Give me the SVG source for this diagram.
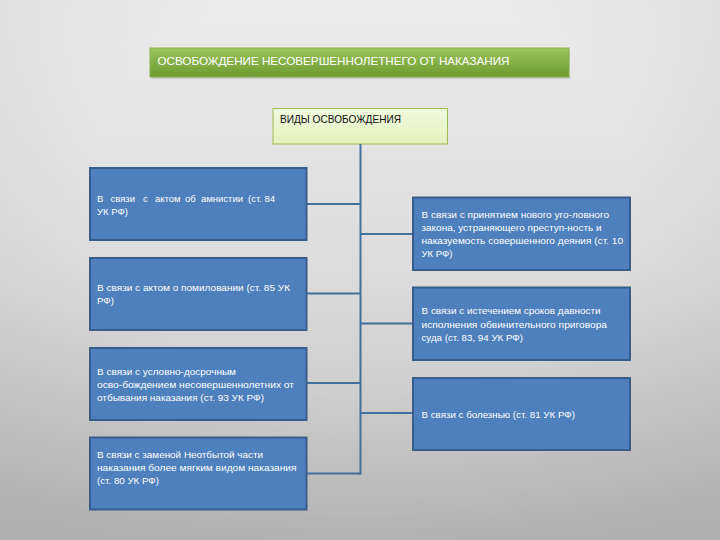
<svg xmlns="http://www.w3.org/2000/svg" width="720" height="540" viewBox="0 0 720 540">
<defs>
<linearGradient id="bg" x1="0" y1="0" x2="0" y2="1">
<stop offset="0" stop-color="#ececec"/>
<stop offset="0.5" stop-color="#dcdcdc"/>
<stop offset="1" stop-color="#bdbdbd"/>
</linearGradient>
<radialGradient id="vig" cx="0.5" cy="0.35" r="0.75">
<stop offset="0.5" stop-color="#000" stop-opacity="0"/>
<stop offset="1" stop-color="#000" stop-opacity="0.08"/>
</radialGradient>
<linearGradient id="green" x1="0" y1="0" x2="0" y2="1">
<stop offset="0" stop-color="#9cc55a"/>
<stop offset="1" stop-color="#6d9a32"/>
</linearGradient>
<linearGradient id="lightgreen" x1="0" y1="0" x2="0" y2="1">
<stop offset="0" stop-color="#f1f9de"/>
<stop offset="1" stop-color="#e2f2bc"/>
</linearGradient>
</defs>
<style>
.box{fill:#4d80bc;stroke:#385d8a;stroke-width:2}
.shadow{fill:#000;opacity:0.12}
.t{font-family:"Liberation Sans","Open Sans",sans-serif;font-size:9.5px;fill:#ffffff}
.tk{font-family:"Liberation Sans","Open Sans",sans-serif;font-size:11px;fill:#111111}
.tw{font-family:"Liberation Sans","Open Sans",sans-serif;font-size:11.5px;fill:#ffffff}
.c{stroke:#41719c;stroke-width:2;fill:none}
</style>
<rect width="720" height="540" fill="url(#bg)"/>
<rect width="720" height="540" fill="url(#vig)"/>

<g id="title">
<rect x="151" y="50" width="419" height="29" class="shadow"/>
<rect x="150" y="48" width="419" height="29" fill="url(#green)" stroke="#8ab04c" stroke-width="1"/>
<text x="157.5" y="65" class="tw" textLength="352" lengthAdjust="spacingAndGlyphs">ОСВОБОЖДЕНИЕ НЕСОВЕРШЕННОЛЕТНЕГО ОТ НАКАЗАНИЯ</text>
</g>

<g id="types">
<rect x="273" y="108.5" width="174.5" height="35.5" fill="url(#lightgreen)" stroke="#9bbb59" stroke-width="1"/>
<text x="280" y="123" class="tk" textLength="121" lengthAdjust="spacingAndGlyphs">ВИДЫ ОСВОБОЖДЕНИЯ</text>
</g>

<g id="connectors">
<line x1="360.5" y1="144" x2="360.5" y2="474.5" class="c"/>
<line x1="307" y1="204" x2="360.5" y2="204" class="c"/>
<line x1="307" y1="293.5" x2="360.5" y2="293.5" class="c"/>
<line x1="307" y1="383" x2="360.5" y2="383" class="c"/>
<line x1="307" y1="473.5" x2="360.5" y2="473.5" class="c"/>
<line x1="360.5" y1="234" x2="413" y2="234" class="c"/>
<line x1="360.5" y1="323.5" x2="413" y2="323.5" class="c"/>
<line x1="360.5" y1="413" x2="413" y2="413" class="c"/>
</g>

<g id="left1">
<rect x="90" y="168" width="216.5" height="72" class="box"/>
<text y="201.5" class="t"><tspan x="97">В</tspan> <tspan x="110.5">связи</tspan> <tspan x="143">с</tspan> <tspan x="155">актом</tspan> <tspan x="185">об</tspan> <tspan x="201">амнистии</tspan> <tspan x="248">(ст. 84</tspan></text>
<text x="97" y="214.5" class="t" textLength="31" lengthAdjust="spacingAndGlyphs">УК РФ)</text>
</g>

<g id="left2">
<rect x="90" y="258" width="216.5" height="72" class="box"/>
<text x="97" y="291" class="t" textLength="193" lengthAdjust="spacingAndGlyphs">В связи с актом о помиловании (ст. 85 УК</text>
<text x="97" y="304" class="t" textLength="17" lengthAdjust="spacingAndGlyphs">РФ)</text>
</g>

<g id="left3">
<rect x="90" y="348" width="216.5" height="72" class="box"/>
<text x="97" y="374.5" class="t" textLength="139" lengthAdjust="spacingAndGlyphs">В связи с условно-досрочным</text>
<text x="97" y="388" class="t" textLength="197" lengthAdjust="spacingAndGlyphs">осво-бождением несовершеннолетних от</text>
<text x="97" y="401" class="t" textLength="167" lengthAdjust="spacingAndGlyphs">отбывания наказания (ст. 93 УК РФ)</text>
</g>

<g id="left4">
<rect x="90" y="437.5" width="216.5" height="72" class="box"/>
<text x="97" y="458" class="t" textLength="166" lengthAdjust="spacingAndGlyphs">В связи с заменой Неотбытой части</text>
<text x="97" y="471" class="t" textLength="199.5" lengthAdjust="spacingAndGlyphs">наказания более мягким видом наказания</text>
<text x="97" y="484" class="t" textLength="62" lengthAdjust="spacingAndGlyphs">(ст. 80 УК РФ)</text>
</g>

<g id="right1">
<rect x="413" y="197.5" width="217" height="72.5" class="box"/>
<text x="421.5" y="218" class="t" textLength="187.5" lengthAdjust="spacingAndGlyphs">В связи с принятием нового уго-ловного</text>
<text x="421.5" y="231" class="t" textLength="180" lengthAdjust="spacingAndGlyphs">закона, устраняющего преступ-ность и</text>
<text x="421.5" y="244" class="t" textLength="201.5" lengthAdjust="spacingAndGlyphs">наказуемость совершенного деяния (ст. 10</text>
<text x="421.5" y="256.5" class="t" textLength="31" lengthAdjust="spacingAndGlyphs">УК РФ)</text>
</g>

<g id="right2">
<rect x="413" y="287.5" width="217" height="72.5" class="box"/>
<text x="421.5" y="314" class="t" textLength="179" lengthAdjust="spacingAndGlyphs">В связи с истечением сроков давности</text>
<text x="421.5" y="328" class="t" textLength="185.5" lengthAdjust="spacingAndGlyphs">исполнения обвинительного приговора</text>
<text x="421.5" y="341" class="t" textLength="101.5" lengthAdjust="spacingAndGlyphs">суда (ст. 83, 94 УК РФ)</text>
</g>

<g id="right3">
<rect x="413" y="378" width="217" height="72" class="box"/>
<text x="421.5" y="417.5" class="t" textLength="153.5" lengthAdjust="spacingAndGlyphs">В связи с болезнью (ст. 81 УК РФ)</text>
</g>
</svg>
